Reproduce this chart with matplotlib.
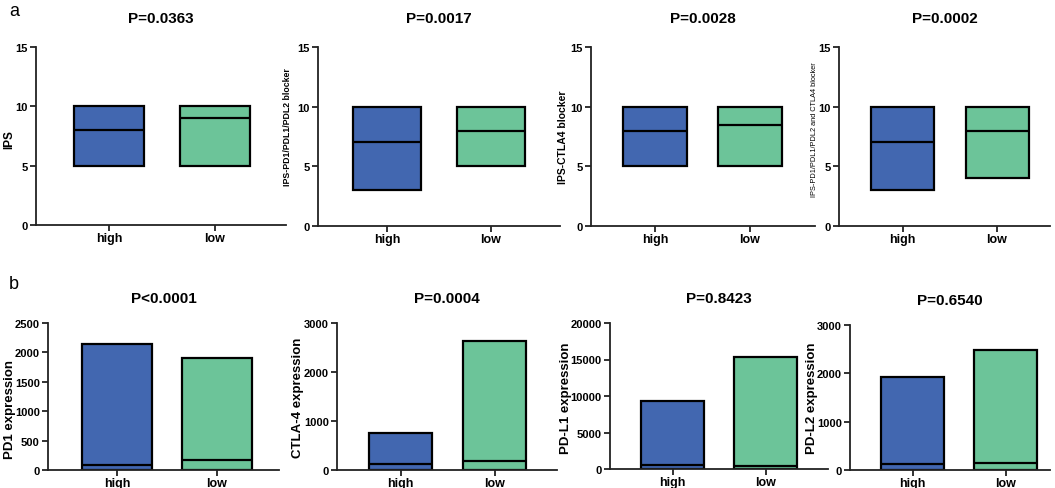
import matplotlib
matplotlib.use('Agg')
import matplotlib.pyplot as plt

plt.rcParams['font.family'] = ['Liberation Sans', 'DejaVu Sans']

groups = ['high', 'low']
colors = ['#4267B0', '#6CC499']

# panel a: min / median / max of the immunophenoscore per group
ips_titles = ['P=0.0363', 'P=0.0017', 'P=0.0028', 'P=0.0002']
ips_labels = ['IPS', 'IPS-PD1/PDL1/PDL2 blocker', 'IPS-CTLA4 blocker',
              'IPS-PD1/PDL1/PDL2 and CTLA4 blocker']
ips_min = [[5, 5], [3, 5], [5, 5], [3, 4]]
ips_med = [[8, 9], [7, 8], [8, 8.5], [7, 8]]
ips_max = [[10, 10], [10, 10], [10, 10], [10, 10]]

# panel b: expression, min / median / max
exp_titles = ['P<0.0001', 'P=0.0004', 'P=0.8423', 'P=0.6540']
exp_labels = ['PD1 expression', 'CTLA-4 expression', 'PD-L1 expression', 'PD-L2 expression']
exp_min = [[0, 0], [0, 0], [0, 0], [0, 0]]
exp_med = [[90, 170], [125, 190], [520, 420], [125, 145]]
exp_max = [[2150, 1900], [750, 2630], [9250, 15300], [1930, 2480]]
exp_ymax = [2500, 3000, 20000, 3000]
exp_yticks = [[0, 500, 1000, 1500, 2000, 2500], [0, 1000, 2000, 3000],
              [0, 5000, 10000, 15000, 20000], [0, 1000, 2000, 3000]]

W, H = 1055, 489
fig = plt.figure(figsize=(W / 100, H / 100), dpi=100)

# pixel layout: left, right, top, bottom(y=0), center of high, center of low, bar width px
top_rects = [(36, 286, 48, 226, 109, 214.5, 70),
             (318, 560, 48, 227, 387, 490.5, 68),
             (591, 815, 48, 227, 655, 750, 64),
             (839, 1050, 48, 227, 902.5, 997, 63)]
bot_rects = [(48, 279, 324, 471, 117, 217, 70),
             (337, 557, 324, 471, 400.5, 494.5, 63),
             (610, 828, 324, 470, 672.5, 765.5, 63),
             (850, 1050, 326, 471, 912.5, 1005.5, 63)]
# y label anchor (right edge x, center y) in pixels
top_label_xy = [(15, 140), (292, 127), (568, 137), (818, 130)]
bot_label_xy = [(16, 410), (304, 398), (572, 398), (818, 398)]
ylab_sizes = [8.5, 6.3, 7.5, 5.3]


def make_ax(rect):
    l, r, t, b, c0, c1, bw = rect
    ax = fig.add_axes([l / W, 1 - b / H, (r - l) / W, (b - t) / H])
    unit = c1 - c0
    ax.set_xlim(-(c0 - l) / unit, (r - c0) / unit)
    for s in ['top', 'right']:
        ax.spines[s].set_visible(False)
    for s in ['left', 'bottom']:
        ax.spines[s].set_linewidth(1.3)
        ax.spines[s].set_color('#222222')
    ax.tick_params(axis='both', direction='out', length=4, width=1.3, pad=2, color='#222222')
    ax.tick_params(axis='x', pad=1)
    return ax, bw / unit


def draw(ax, width, lo, med, hi):
    x = list(range(len(groups)))
    heights = [h - l for h, l in zip(hi, lo)]
    ax.bar(x, heights, bottom=lo, width=width, color=colors,
           edgecolor='black', linewidth=1.6, zorder=2)
    for i in x:
        ax.plot([i - width / 2, i + width / 2], [med[i], med[i]],
                color='black', lw=1.6, zorder=3, solid_capstyle='butt')
    ax.set_xticks(x)
    ax.set_xticklabels(groups, fontsize=9, fontweight='bold')


def style_yticks(ax):
    for lab in ax.get_yticklabels():
        lab.set_fontweight('bold')
        lab.set_fontsize(8)


for i, rect in enumerate(top_rects):
    ax, w = make_ax(rect)
    draw(ax, w, ips_min[i], ips_med[i], ips_max[i])
    ax.set_ylim(0, 15)
    ax.set_yticks([0, 5, 10, 15])
    style_yticks(ax)
    ax.set_ylabel(ips_labels[i], fontsize=ylab_sizes[i],
                  fontweight='bold' if i < 3 else 'normal')
    lx, ly = top_label_xy[i]
    ax.yaxis.set_label_coords(lx / W, 1 - ly / H, transform=fig.transFigure)
    ax.set_title(ips_titles[i], fontsize=11, fontweight='bold', pad=18)

for i, rect in enumerate(bot_rects):
    ax, w = make_ax(rect)
    draw(ax, w, exp_min[i], exp_med[i], exp_max[i])
    ax.set_ylim(0, exp_ymax[i])
    ax.set_yticks(exp_yticks[i])
    style_yticks(ax)
    ax.set_ylabel(exp_labels[i], fontsize=9.5, fontweight='bold')
    lx, ly = bot_label_xy[i]
    ax.yaxis.set_label_coords(lx / W, 1 - ly / H, transform=fig.transFigure)
    ax.set_title(exp_titles[i], fontsize=11, fontweight='bold', pad=15)

fig.text(9 / W, 1 - 12 / H, 'a', fontsize=13, va='center')
fig.text(9 / W, 1 - 285 / H, 'b', fontsize=13, va='center')

fig.savefig('out.png', dpi=100)
